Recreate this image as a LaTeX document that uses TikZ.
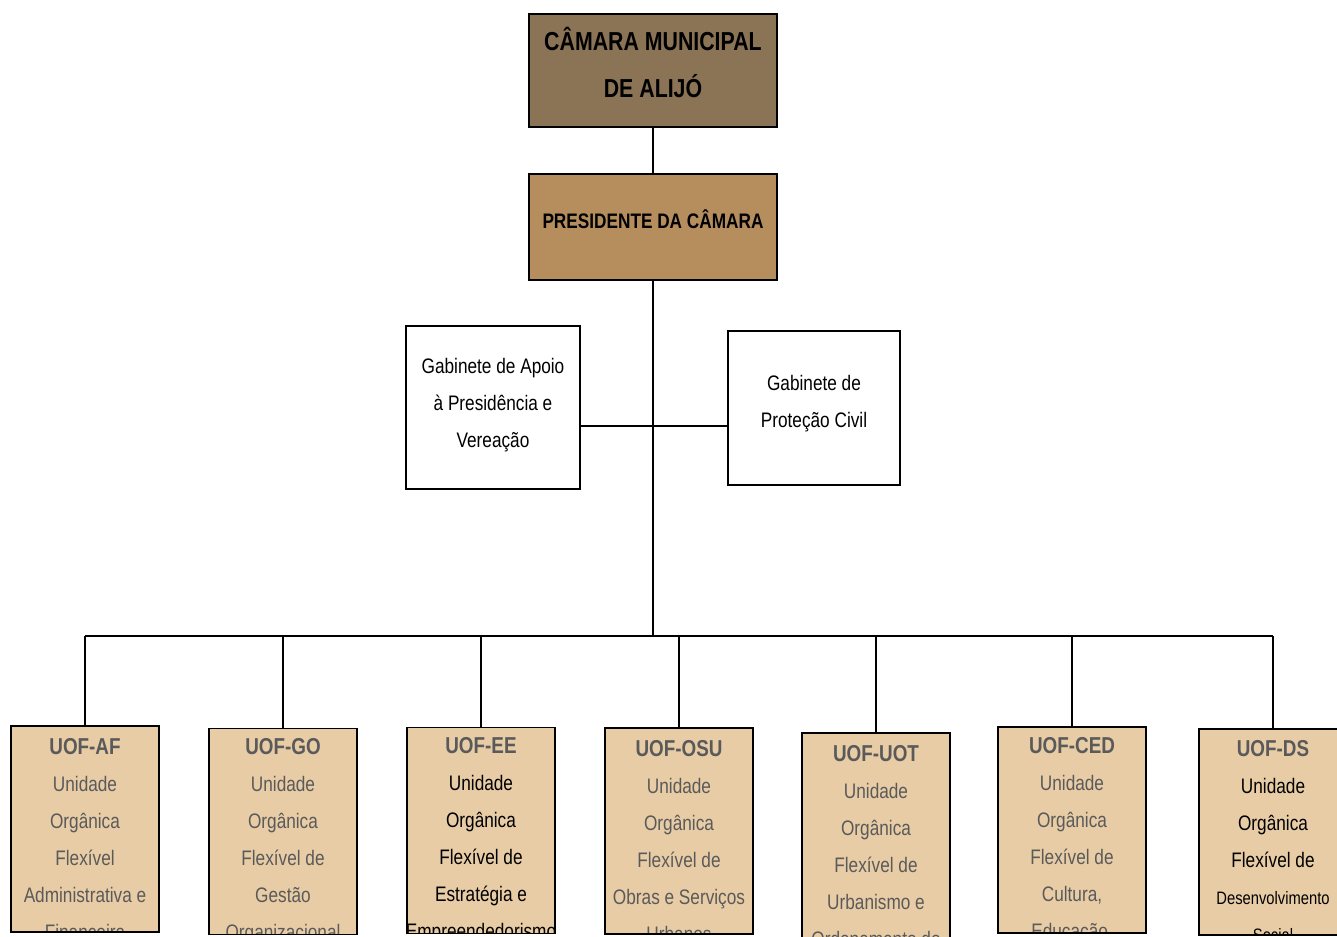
\documentclass[tikz,border=0pt]{standalone}
\usepackage{fontspec}
\setmainfont{Liberation Sans}[FakeStretch=0.82]
\usepackage{xcolor}
\usetikzlibrary{positioning,calc}

\definecolor{camarabrown}{RGB}{139,115,85}
\definecolor{presbrown}{RGB}{182,142,94}
\definecolor{unitbeige}{RGB}{232,204,166}
\definecolor{unitgray}{RGB}{90,90,90}

\newcommand{\uofhead}[1]{{\color{unitgray}\fontsize{23}{37}\selectfont\bfseries #1}}

\tikzset{
  link/.style={line width=1.6pt},
  chief/.style={draw, line width=1.6pt, fill=camarabrown, minimum width=248pt, minimum height=113pt, align=center, inner sep=0pt, font=\fontsize{26}{47}\selectfont\bfseries},
  president/.style={draw, line width=1.6pt, fill=presbrown, minimum width=248pt, minimum height=106pt, align=center, inner sep=0pt, font=\fontsize{21}{37}\selectfont\bfseries},
  office/.style={draw, line width=1.6pt, fill=white, align=center, inner sep=0pt, font=\fontsize{21}{37}\selectfont},
  unit/.style={draw, line width=1.6pt, fill=unitbeige, minimum width=148pt, minimum height=206pt, inner sep=0pt},
  unittext/.style={anchor=north, align=center, inner sep=0pt, text=unitgray, font=\fontsize{21}{37}\selectfont}
}

\begin{document}
\begin{tikzpicture}[x=1pt,y=-1pt]
\useasboundingbox (0,0) rectangle (1337,936);
\clip (0,0) rectangle (1337,936);

% camara and president
\node[chief, text depth=17pt] (camara) at (653,70.5) {CÂMARA MUNICIPAL\\DE ALIJÓ};
\node[president, text depth=16pt] (pres) at (653,227) {PRESIDENTE DA CÂMARA};
\draw[link] (camara) -- (pres);

% gabinetes
\node[office, minimum width=174pt, minimum height=163pt, text depth=10pt] (gap) at (493,407.5) {Gabinete de Apoio\\à Presidência e\\Vereação};
\node[office, minimum width=172pt, minimum height=154pt, text depth=13pt] (gpc) at (814,408) {Gabinete de\\Proteção Civil};
\coordinate (mid) at (653,426);
\coordinate (bus) at (653,636);
\draw[link] (pres) -- (bus);
\draw[link] (gap.east |- mid) -- (gpc.west |- mid);

% unidades organicas flexiveis
\node[unit, path picture={\node[unittext] (aftext) at ([yshift=-9pt]path picture bounding box.north) {\uofhead{UOF-AF}\\Unidade\\Orgânica\\Flexível\\Administrativa e\\Financeira};}] (af) at (85,829) {};
\node[unit, path picture={\node[unittext] (gotext) at ([yshift=-9pt]path picture bounding box.north) {\uofhead{UOF-GO}\\Unidade\\Orgânica\\Flexível de\\Gestão\\Organizacional};}] (go) at (283,831.5) {};
\node[unit, path picture={\node[unittext, text=black] (eetext) at ([yshift=-9pt]path picture bounding box.north) {\uofhead{UOF-EE}\\Unidade\\Orgânica\\Flexível de\\Estratégia e\\Empreendedorismo};}] (ee) at (481,830.5) {};
\node[unit, path picture={\node[unittext] (osutext) at ([yshift=-9pt]path picture bounding box.north) {\uofhead{UOF-OSU}\\Unidade\\Orgânica\\Flexível de\\Obras e Serviços\\Urbanos};}] (osu) at (679,831) {};
\node[unit, path picture={\node[unittext] (uottext) at ([yshift=-9pt]path picture bounding box.north) {\uofhead{UOF-UOT}\\Unidade\\Orgânica\\Flexível de\\Urbanismo e\\Ordenamento do};}] (uot) at (876,836) {};
\node[unit, path picture={\node[unittext] (cedtext) at ([yshift=-9pt]path picture bounding box.north) {\uofhead{UOF-CED}\\Unidade\\Orgânica\\Flexível de\\Cultura,\\Educação,};}] (ced) at (1072,830) {};
\node[unit, path picture={\node[unittext, text=black] (dstext) at ([yshift=-8pt]path picture bounding box.north) {\uofhead{UOF-DS}\\Unidade\\Orgânica\\Flexível de\\{\fontsize{18}{31}\selectfont Desenvolvimento}\\{\fontsize{18}{31}\selectfont Social}};}] (ds) at (1273,832) {};

\draw[link] (bus -| af) -- (bus -| ds);
\foreach \u in {af,go,ee,osu,uot,ced,ds}
  \draw[link] (bus -| \u) -- (\u);
\end{tikzpicture}
\end{document}
